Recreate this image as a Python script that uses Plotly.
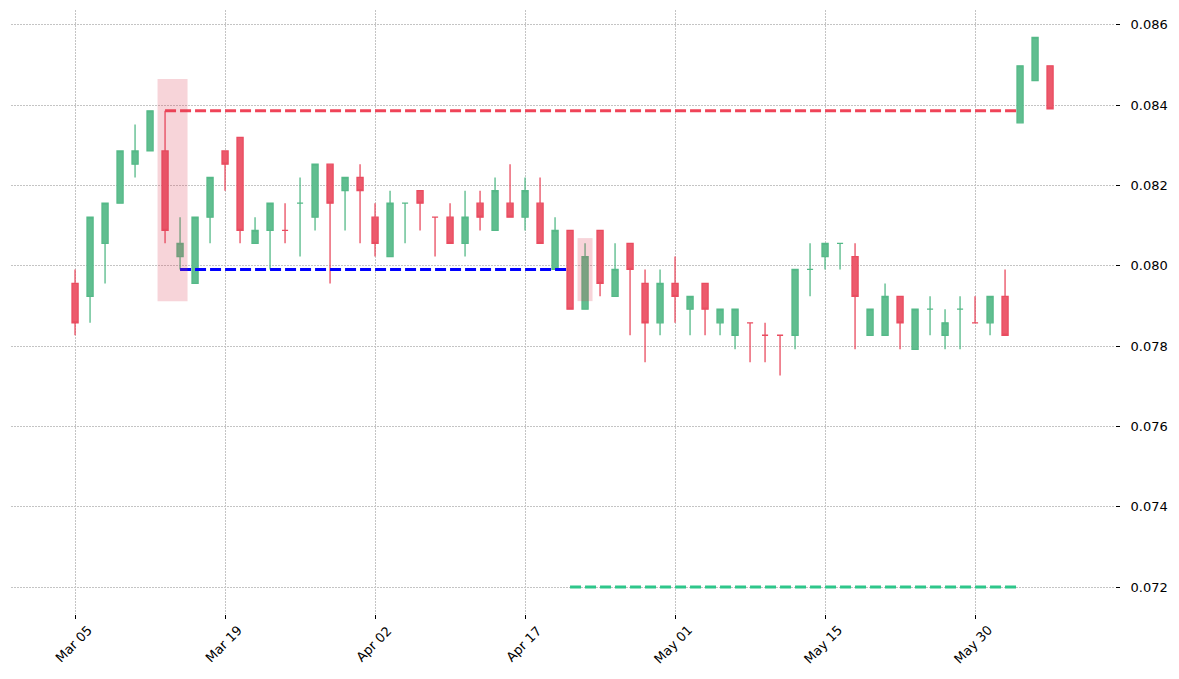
import plotly.graph_objects as go

# ---- data ----
opens = [0.07956, 0.07924, 0.08056, 0.08156, 0.08253, 0.08286, 0.08286, 0.08023, 0.07956, 0.08121,
         0.08286, 0.08320, 0.08056, 0.08088, 0.08088, 0.08156, 0.08121, 0.08253, 0.08187, 0.08220,
         0.08121, 0.08023, 0.08156, 0.08187, 0.08121, 0.08121, 0.08056, 0.08156, 0.08088, 0.08156,
         0.08121, 0.08156, 0.07991, 0.08088, 0.07892, 0.08088, 0.07924, 0.08056, 0.07956, 0.07858,
         0.07956, 0.07892, 0.07956, 0.07858, 0.07827, 0.07858, 0.07827, 0.07827, 0.07827, 0.07991,
         0.08023, 0.08056, 0.08023, 0.07827, 0.07827, 0.07924, 0.07792, 0.07892, 0.07827, 0.07892,
         0.07858, 0.07858, 0.07924, 0.08356, 0.08461, 0.08498]
highs = [0.07991, 0.08121, 0.08156, 0.08286, 0.08352, 0.08386, 0.08386, 0.08121, 0.08121, 0.08220,
         0.08286, 0.08320, 0.08121, 0.08156, 0.08156, 0.08220, 0.08253, 0.08253, 0.08220, 0.08253,
         0.08156, 0.08187, 0.08156, 0.08187, 0.08121, 0.08156, 0.08187, 0.08187, 0.08220, 0.08253,
         0.08220, 0.08220, 0.08121, 0.08088, 0.08056, 0.08088, 0.08056, 0.08056, 0.07991, 0.07991,
         0.08023, 0.07924, 0.07956, 0.07892, 0.07892, 0.07858, 0.07858, 0.07827, 0.07991, 0.08056,
         0.08056, 0.08056, 0.08056, 0.07892, 0.07956, 0.07924, 0.07892, 0.07924, 0.07892, 0.07924,
         0.07924, 0.07924, 0.07991, 0.08498, 0.08569, 0.08498]
lows = [0.07827, 0.07858, 0.07956, 0.08156, 0.08220, 0.08286, 0.08056, 0.07991, 0.07956, 0.08056,
        0.08187, 0.08056, 0.08056, 0.07991, 0.08056, 0.08023, 0.08088, 0.07956, 0.08088, 0.08056,
        0.08023, 0.08023, 0.08056, 0.08088, 0.08023, 0.08056, 0.08023, 0.08088, 0.08088, 0.08121,
        0.08088, 0.08056, 0.07991, 0.07892, 0.07892, 0.07924, 0.07924, 0.07827, 0.07760, 0.07827,
        0.07858, 0.07827, 0.07827, 0.07827, 0.07792, 0.07760, 0.07760, 0.07727, 0.07792, 0.07924,
        0.07991, 0.07991, 0.07792, 0.07827, 0.07827, 0.07792, 0.07792, 0.07827, 0.07792, 0.07792,
        0.07858, 0.07827, 0.07827, 0.08356, 0.08461, 0.08391]
closes = [0.07858, 0.08121, 0.08156, 0.08286, 0.08286, 0.08386, 0.08088, 0.08056, 0.08121, 0.08220,
          0.08253, 0.08088, 0.08088, 0.08156, 0.08088, 0.08156, 0.08253, 0.08156, 0.08220, 0.08187,
          0.08056, 0.08156, 0.08156, 0.08156, 0.08121, 0.08056, 0.08121, 0.08121, 0.08187, 0.08121,
          0.08187, 0.08056, 0.08088, 0.07892, 0.08023, 0.07956, 0.07991, 0.07991, 0.07858, 0.07956,
          0.07924, 0.07924, 0.07892, 0.07892, 0.07892, 0.07858, 0.07827, 0.07827, 0.07991, 0.07991,
          0.08056, 0.08056, 0.07924, 0.07892, 0.07924, 0.07858, 0.07892, 0.07892, 0.07858, 0.07892,
          0.07858, 0.07924, 0.07827, 0.08498, 0.08569, 0.08391]

tick_labels = ["Mar 05", "Mar 19", "Apr 02", "Apr 17", "May 01", "May 15", "May 30"]
tick_every = 10

# level / annotation lines (index range and price)
resistance_x = [6, 63]
resistance_y = [0.08386, 0.08386]
support_x = [7, 33]
support_y = [0.07991, 0.07991]
target_x = [33, 63]
target_y = [0.072, 0.072]

# highlight boxes: (x0, x1, y0, y1)
highlight_1 = (5.5, 7.5, 0.07912, 0.08465)
highlight_2 = (33.5, 34.5, 0.07912, 0.08069)

idx = list(range(len(opens)))
tick_positions = [i * tick_every for i in range(len(tick_labels))]

fig = go.Figure()
fig.add_trace(go.Candlestick(
    x=idx, open=opens, high=highs, low=lows, close=closes,
    increasing=dict(fillcolor="#60be90", line=dict(color="#55b988", width=1.3)),
    decreasing=dict(fillcolor="#ec5a6c", line=dict(color="#e94c60", width=1.3)),
    whiskerwidth=0, showlegend=False, hoverinfo="skip",
))

dash = "11px,4px"
fig.add_trace(go.Scatter(x=resistance_x, y=resistance_y, mode="lines",
                         line=dict(color="#ef4458", width=3, dash=dash), showlegend=False))
fig.add_trace(go.Scatter(x=support_x, y=support_y, mode="lines",
                         line=dict(color="#0000ff", width=3, dash=dash), showlegend=False))
fig.add_trace(go.Scatter(x=target_x, y=target_y, mode="lines",
                         line=dict(color="#2ec68a", width=3, dash=dash), showlegend=False))

for (x0, x1, y0, y1) in (highlight_1, highlight_2):
    fig.add_shape(type="rect", xref="x", yref="y", x0=x0, x1=x1, y0=y0, y1=y1,
                  fillcolor="rgba(220,60,80,0.22)", line=dict(width=0), layer="above")

# rotated x tick labels centred under their ticks (matplotlib style)
for pos, lab in zip(tick_positions, tick_labels):
    fig.add_annotation(x=pos - 0.13, xref="x", y=-30 / 604, yref="paper",
                       text=lab, textangle=-45, showarrow=False,
                       xanchor="center", yanchor="middle",
                       font=dict(family="DejaVu Sans", size=13, color="black"))

fig.update_layout(
    width=1179, height=679,
    margin=dict(l=3, r=72, t=2, b=73),
    paper_bgcolor="white", plot_bgcolor="white",
    font=dict(family="DejaVu Sans", size=13, color="black"),
    boxgap=0.42,
    showlegend=False,
)
fig.update_xaxes(
    range=[-4.27, 69.33],
    tickmode="array",
    tickvals=tick_positions,
    ticktext=tick_labels,
    showticklabels=False,
    ticks="outside", ticklen=4, tickcolor="black", tickwidth=1,
    showgrid=True, gridcolor="#c4c4c4", gridwidth=0.8, griddash="2px,1px",
    zeroline=False, showline=False,
    rangeslider=dict(visible=False),
)
fig.update_yaxes(
    side="right",
    range=[0.071328, 0.086371],
    tickmode="array",
    tickvals=[0.072, 0.074, 0.076, 0.078, 0.080, 0.082, 0.084, 0.086],
    tickformat=".3f",
    tickfont=dict(family="DejaVu Sans", size=13, color="black"),
    ticks="outside", ticklen=4, tickcolor="black", tickwidth=1,
    ticklabelstandoff=8,
    showgrid=True, gridcolor="#c4c4c4", gridwidth=0.8, griddash="2px,1px",
    zeroline=False, showline=False,
)

fig.write_html("out.html")
